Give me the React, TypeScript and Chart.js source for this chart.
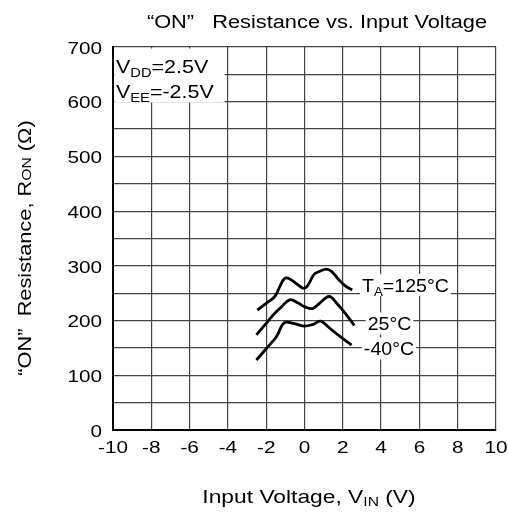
import React, { useEffect, useRef } from "react";
import { Chart, registerables } from "chart.js";

Chart.register(...registerables);

const xTicks = [-10, -8, -6, -4, -2, 0, 2, 4, 6, 8, 10];
const yTickLabels = [0, 100, 200, 300, 400, 500, 600, 700];

const vin125 = [-2.46, -1.99, -1.55, -1.29, -1.03, -0.77, -0.33, -0.03, 0.19, 0.49, 0.8, 1.15, 1.41, 1.76, 2.11, 2.49];
const ron125 = [219, 232, 244, 262, 277, 276, 265, 259, 265, 284, 290, 294, 290, 276, 264, 256];

const vin25 = [-2.51, -2.07, -1.64, -1.2, -0.77, -0.33, 0.02, 0.42, 0.8, 1.29, 1.67, 2.2, 2.6];
const ron25 = [174, 192, 210, 225, 238, 232, 225, 222, 232, 244, 232, 210, 191];

const vinM40 = [-2.51, -1.99, -1.46, -1.06, -0.59, -0.03, 0.45, 0.84, 1.32, 1.85, 2.46];
const ronM40 = [128, 149, 171, 196, 195, 190, 193, 199, 186, 171, 155];

const seriesNames = ["125°C", "25°C", "-40°C"];

const FONT = "'Liberation Sans', Arial, sans-serif";

type Seg = { t: string; sub?: boolean };

function segWidth(ctx: CanvasRenderingContext2D, segs: Seg[], size: number, subSize: number, hs: number) {
  let w = 0;
  for (const s of segs) {
    ctx.font = `${s.sub ? subSize : size}px ${FONT}`;
    w += ctx.measureText(s.t).width * hs;
  }
  return w;
}

function drawSegs(
  ctx: CanvasRenderingContext2D,
  segs: Seg[],
  x: number,
  y: number,
  size: number,
  subSize: number,
  subDrop: number,
  hs: number
) {
  ctx.save();
  ctx.translate(x, y);
  ctx.scale(hs, 1);
  let cx = 0;
  ctx.textBaseline = "alphabetic";
  ctx.textAlign = "left";
  for (const s of segs) {
    ctx.font = `${s.sub ? subSize : size}px ${FONT}`;
    ctx.fillText(s.t, cx, s.sub ? subDrop : 0);
    cx += ctx.measureText(s.t).width;
  }
  ctx.restore();
}

function drawStretched(ctx: CanvasRenderingContext2D, t: string, x: number, y: number, align: CanvasTextAlign, size: number, hs: number) {
  ctx.save();
  ctx.translate(x, y);
  ctx.scale(hs, 1);
  ctx.font = `${size}px ${FONT}`;
  ctx.textAlign = align;
  ctx.textBaseline = "middle";
  ctx.fillText(t, 0, 0);
  ctx.restore();
}

const textPlugin = {
  id: "texts",
  afterDraw(chart: any) {
    const ctx: CanvasRenderingContext2D = chart.ctx;
    const xs = chart.scales.x;
    const ys = chart.scales.y;
    const area = chart.chartArea;
    ctx.save();
    ctx.fillStyle = "#000";

    // tick labels
    for (const v of xTicks) {
      drawStretched(ctx, String(v), xs.getPixelForValue(v), area.bottom + 18, "center", 17, 1.22);
    }
    for (const v of yTickLabels) {
      drawStretched(ctx, String(v), area.left - 11, ys.getPixelForValue(v) + 2, "right", 17, 1.22);
    }

    // title
    const titleSegs: Seg[] = [{ t: "\u201CON\u201D   Resistance vs. Input Voltage" }];
    const tw = segWidth(ctx, titleSegs, 18, 13, 1.21);
    drawSegs(ctx, titleSegs, 317 - tw / 2, 28, 18, 13, 4, 1.21);

    // x title
    const xSegs: Seg[] = [{ t: "Input Voltage, V" }, { t: "IN", sub: true }, { t: " (V)" }];
    const xw = segWidth(ctx, xSegs, 19, 13, 1.2);
    drawSegs(ctx, xSegs, 309 - xw / 2, 503, 19, 13, 3, 1.2);

    // y title
    const ySegs: Seg[] = [{ t: "\u201CON\u201D  Resistance, R" }, { t: "ON", sub: true }, { t: " (\u03A9)" }];
    const yw = segWidth(ctx, ySegs, 18, 13, 1.21);
    ctx.save();
    ctx.translate(31, 248);
    ctx.rotate(-Math.PI / 2);
    drawSegs(ctx, ySegs, -yw / 2, 0, 18, 13, 0, 1.21);
    ctx.restore();

    // supply annotation box
    ctx.fillStyle = "#fff";
    ctx.fillRect(area.left + 1.5, area.top + 1.5, 110, 54);
    ctx.fillStyle = "#000";
    drawSegs(ctx, [{ t: "V" }, { t: "DD", sub: true }, { t: "=2.5V" }], area.left + 3, area.top + 26, 19, 13, 4, 1.13);
    drawSegs(ctx, [{ t: "V" }, { t: "EE", sub: true }, { t: "=-2.5V" }], area.left + 3, area.top + 51, 19, 13, 4, 1.13);

    // curve labels
    const labels: { segs: Seg[]; x: number; y: number }[] = [
      { segs: [{ t: "T" }, { t: "A", sub: true }, { t: "=" + seriesNames[0] }], x: 3.0, y: 265 },
      { segs: [{ t: seriesNames[1] }], x: 3.3, y: 195 },
      { segs: [{ t: seriesNames[2] }], x: 3.1, y: 149 },
    ];
    for (const l of labels) {
      const px = xs.getPixelForValue(l.x);
      const py = ys.getPixelForValue(l.y);
      const w = segWidth(ctx, l.segs, 19, 13, 1.03);
      ctx.fillStyle = "#fff";
      ctx.fillRect(px - 2, py - 11, w + 4, 22);
      ctx.fillStyle = "#000";
      drawSegs(ctx, l.segs, px, py + 7, 19, 13, 4, 1.03);
    }
    ctx.restore();
  },
};

export default function App() {
  const ref = useRef<HTMLCanvasElement | null>(null);
  useEffect(() => {
    if (!ref.current) return;
    const mk = (xv: number[], yv: number[]) => xv.map((x, i) => ({ x, y: yv[i] }));
    const ds = (label: string, d: { x: number; y: number }[]) => ({
      label,
      data: d,
      borderColor: "#000",
      borderWidth: 2.8,
      pointRadius: 0,
      tension: 0.4,
      fill: false,
    });
    const chart = new Chart(ref.current, {
      type: "line",
      data: {
        datasets: [
          ds(seriesNames[0], mk(vin125, ron125)),
          ds(seriesNames[1], mk(vin25, ron25)),
          ds(seriesNames[2], mk(vinM40, ronM40)),
        ],
      },
      options: {
        animation: false,
        responsive: false,
        devicePixelRatio: 1,
        layout: { padding: { left: 40, right: 12, top: 47, bottom: 0 } },
        plugins: { legend: { display: false }, tooltip: { enabled: false }, title: { display: false } },
        scales: {
          x: {
            type: "linear",
            min: xTicks[0],
            max: xTicks[xTicks.length - 1],
            afterBuildTicks: (s: any) => {
              s.ticks = xTicks.map((v) => ({ value: v }));
            },
            afterFit: (s: any) => {
              s.height = 88;
            },
            ticks: { display: false },
            grid: { color: "#444", lineWidth: 1.2, drawTicks: false },
            border: { color: "#000", width: 2 },
          },
          y: {
            type: "linear",
            min: 0,
            max: 700,
            ticks: { stepSize: 50, display: false },
            afterFit: (s: any) => {
              s.width = 73;
            },
            grid: { color: "#444", lineWidth: 1.2, drawTicks: false },
            border: { color: "#000", width: 2 },
          },
        },
      },
      plugins: [textPlugin],
    } as any);
    return () => chart.destroy();
  }, []);
  return (
    <div style={{ position: "fixed", left: 0, top: 0, width: 508, height: 518, background: "#fff" }}>
      <canvas ref={ref} width={508} height={518} style={{ width: 508, height: 518, display: "block" }} />
    </div>
  );
}
